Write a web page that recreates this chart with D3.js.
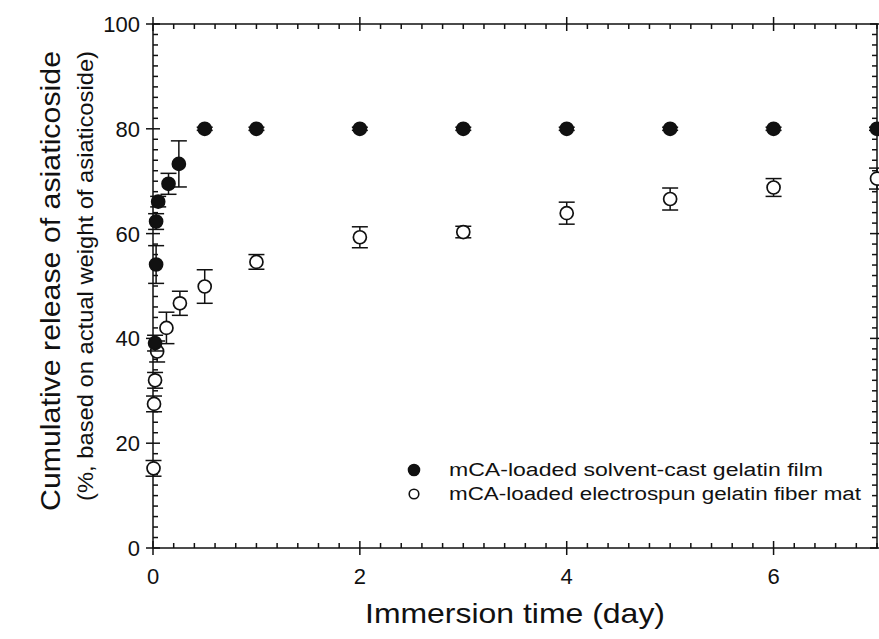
<!DOCTYPE html>
<html><head><meta charset="utf-8">
<script src="https://cdn.jsdelivr.net/npm/d3@7"></script>
<style>body{margin:0;background:#fff}svg{display:block}text{font-family:"Liberation Sans",Arial,sans-serif;fill:#111}</style>
</head><body><svg id="c" width="879" height="639"></svg>
<script>
// Data
const filmTime  = [0.02, 0.03, 0.03, 0.05, 0.15, 0.25, 0.5, 1, 2, 3, 4, 5, 6, 7];
const filmValue = [39.1, 54.1, 62.3, 66.1, 69.5, 73.3, 80, 80, 80, 80, 80, 80, 80, 80];
const filmErr   = [1.5, 3.6, 1.5, 1.0, 2.0, 4.4, 0.3, 0.3, 0.3, 0.3, 0.3, 0.3, 0.3, 0.3];
const matTime   = [0.005, 0.01, 0.02, 0.04, 0.13, 0.26, 0.5, 1, 2, 3, 4, 5, 6, 7];
const matValue  = [15.2, 27.5, 32.0, 37.5, 42.0, 46.7, 49.9, 54.6, 59.3, 60.3, 63.9, 66.6, 68.8, 70.5];
const matErr    = [1.5, 1.5, 1.5, 2.0, 3.0, 2.3, 3.2, 1.4, 2.0, 1.1, 2.1, 2.1, 1.7, 2.0];
const xTicks = [0, 2, 4, 6];
const yTicks = [0, 20, 40, 60, 80, 100];
const legendLabels = ["mCA-loaded solvent-cast gelatin film", "mCA-loaded electrospun gelatin fiber mat"];
const xTitle = "Immersion time (day)";
const yTitle1 = "Cumulative release of asiaticoside";
const yTitle2 = "(%, based on actual weight of asiaticoside)";

const svg = d3.select("#c");
const L = 153, R = 877, T = 24, B = 548;
const x = d3.scaleLinear().domain([0, 7]).range([L, R]);
const y = d3.scaleLinear().domain([0, 100]).range([B, T]);
const ink = "#111";
const g = svg.append("g").attr("stroke", ink).attr("stroke-width", 1.5).attr("fill", "none");

// frame
g.append("rect").attr("x", L).attr("y", T).attr("width", R - L).attr("height", B - T);

// x ticks (bottom and top)
const xMinor = d3.range(0, 7.001, 0.2).map(v => +v.toFixed(2)).filter(v => !xTicks.includes(v));
xMinor.forEach(v => {
  g.append("line").attr("x1", x(v)).attr("x2", x(v)).attr("y1", B).attr("y2", B - 5);
  g.append("line").attr("x1", x(v)).attr("x2", x(v)).attr("y1", T).attr("y2", T + 5);
});
xTicks.forEach(v => {
  g.append("line").attr("x1", x(v)).attr("x2", x(v)).attr("y1", B + 7).attr("y2", B - 7);
  g.append("line").attr("x1", x(v)).attr("x2", x(v)).attr("y1", T - 7).attr("y2", T + 7);
});
// y ticks (left and right)
const yMinor = d3.range(0, 100.001, 2).filter(v => !yTicks.includes(v));
yMinor.forEach(v => {
  g.append("line").attr("y1", y(v)).attr("y2", y(v)).attr("x1", L).attr("x2", L + 5);
  g.append("line").attr("y1", y(v)).attr("y2", y(v)).attr("x1", R).attr("x2", R - 5);
});
yTicks.forEach(v => {
  g.append("line").attr("y1", y(v)).attr("y2", y(v)).attr("x1", L - 7).attr("x2", L + 7);
  g.append("line").attr("y1", y(v)).attr("y2", y(v)).attr("x1", R - 7).attr("x2", R + 7);
});

// tick labels
svg.append("g").selectAll("text").data(xTicks).join("text")
  .attr("x", d => x(d)).attr("y", B + 36).attr("text-anchor", "middle")
  .attr("font-size", 22).text(d => d);
svg.append("g").selectAll("text").data(yTicks).join("text")
  .attr("x", L - 13).attr("y", d => y(d) + 8).attr("text-anchor", "end")
  .attr("font-size", 22).text(d => d);

// titles
svg.append("text").attr("x", 515).attr("y", 623).attr("text-anchor", "middle")
  .attr("font-size", 28).attr("textLength", 300).attr("lengthAdjust", "spacingAndGlyphs").text(xTitle);
svg.append("text").attr("transform", `translate(60,281) rotate(-90)`)
  .attr("text-anchor", "middle").attr("font-size", 28).attr("textLength", 460)
  .attr("lengthAdjust", "spacingAndGlyphs").text(yTitle1);
svg.append("text").attr("transform", `translate(93,276) rotate(-90)`)
  .attr("text-anchor", "middle").attr("font-size", 22).attr("textLength", 450)
  .attr("lengthAdjust", "spacingAndGlyphs").text(yTitle2);

// error bars + points
function series(ts, vs, es, filled) {
  const s = svg.append("g");
  ts.forEach((t, i) => {
    const cx = x(t), y1 = y(vs[i] + es[i]), y2 = y(vs[i] - es[i]);
    const e = s.append("g").attr("stroke", ink).attr("stroke-width", 1.5);
    e.append("line").attr("x1", cx).attr("x2", cx).attr("y1", y1).attr("y2", y2);
    e.append("line").attr("x1", cx - 8).attr("x2", cx + 8).attr("y1", y1).attr("y2", y1);
    e.append("line").attr("x1", cx - 8).attr("x2", cx + 8).attr("y1", y2).attr("y2", y2);
  });
  s.selectAll("circle").data(ts).join("circle")
    .attr("cx", d => x(d)).attr("cy", (d, i) => y(vs[i])).attr("r", 6.5)
    .attr("fill", filled ? ink : "#fff").attr("stroke", ink).attr("stroke-width", 1.7);
}
series(matTime, matValue, matErr, false);
series(filmTime, filmValue, filmErr, true);

// legend
const legendWidths = [374, 412];
const lg = svg.append("g");
legendLabels.forEach((lab, i) => {
  const ly = 470 + i * 24;
  lg.append("circle").attr("cx", 414).attr("cy", ly).attr("r", i === 0 ? 5.5 : 4.8)
    .attr("fill", i === 0 ? ink : "#fff").attr("stroke", ink).attr("stroke-width", 1.6);
  lg.append("text").attr("x", 449).attr("y", ly + 6).attr("font-size", 18)
    .attr("textLength", legendWidths[i]).attr("lengthAdjust", "spacingAndGlyphs").text(lab);
});
</script></body></html>
